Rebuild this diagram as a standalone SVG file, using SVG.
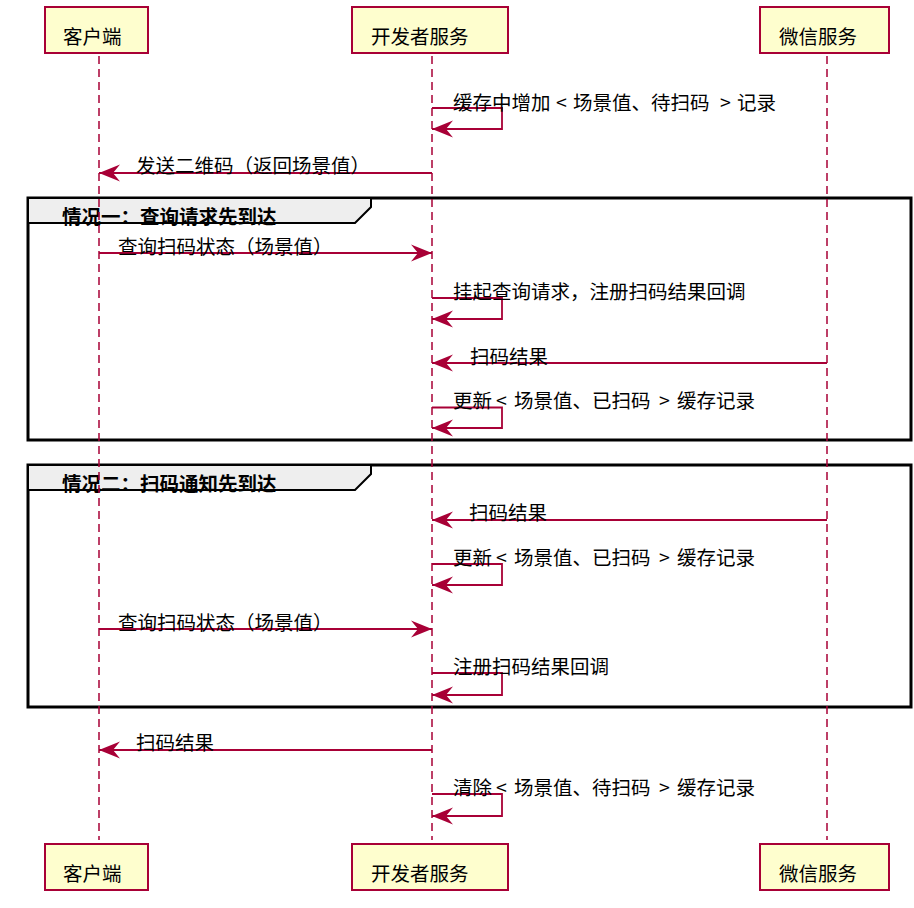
<svg xmlns="http://www.w3.org/2000/svg" width="914" height="908" viewBox="0 0 914 908">
<style>
.life{stroke:#A80036;stroke-width:1.5;stroke-dasharray:8 5;fill:none}
.box{fill:#FEFECE;stroke:#A80036;stroke-width:2}
.msg{stroke:#A80036;stroke-width:1.8;fill:none;marker-end:url(#arr)}
.t{font-family:"Noto Sans CJK SC","Noto Sans",sans-serif;font-size:19.5px;fill:#000}
.frame{fill:none;stroke:#000;stroke-width:3}
.tab{fill:#EEEEEE;stroke:#000;stroke-width:2}
.fl{font-weight:bold}
</style>
<defs>
<marker id="arr" markerUnits="userSpaceOnUse" viewBox="-22 -10 23 20" refX="0" refY="0" markerWidth="23" markerHeight="20" orient="auto">
<path d="M0,0 L-21,-8.5 L-14,0 L-21,8.5 Z" fill="#A80036"/>
</marker>
</defs>
<rect width="914" height="908" fill="#fff"/>
<g id="frames">
<g id="group1">
<rect class="frame" x="28" y="198" width="883" height="242"/>
<path class="tab" d="M28,198 H371 V207 L355,223 H28 Z"/>
<text class="t fl" x="62" y="224">情况一：查询请求先到达</text>
</g>
<g id="group2">
<rect class="frame" x="28" y="465" width="883" height="242"/>
<path class="tab" d="M28,465 H371 V474 L355,490 H28 Z"/>
<text class="t fl" x="62" y="491">情况二：扫码通知先到达</text>
</g>
</g>
<g id="lifelines">
<line class="life" x1="99" y1="56" x2="99" y2="840"/>
<line class="life" x1="432" y1="56" x2="432" y2="840"/>
<line class="life" x1="827" y1="56" x2="827" y2="840"/>
</g>
<g id="client">
<rect class="box" x="45" y="7" width="103" height="46"/>
<text class="t" x="63" y="43.5">客户端</text>
<rect class="box" x="45" y="844" width="103" height="46"/>
<text class="t" x="63" y="880.5">客户端</text>
</g>
<g id="devserver">
<rect class="box" x="352" y="7" width="156" height="46"/>
<text class="t" x="371" y="43.5">开发者服务</text>
<rect class="box" x="352" y="844" width="156" height="46"/>
<text class="t" x="371" y="880.5">开发者服务</text>
</g>
<g id="wechat">
<rect class="box" x="760" y="7" width="129" height="46"/>
<text class="t" x="779" y="43.5">微信服务</text>
<rect class="box" x="760" y="844" width="129" height="46"/>
<text class="t" x="779" y="880.5">微信服务</text>
</g>
<g id="connectors">
<path class="msg" d="M432,108 H502 V129 H432"/>
<path class="msg" d="M432,173 H99"/>
<path class="msg" d="M99,253 H432"/>
<path class="msg" d="M432,298 H502 V319 H432"/>
<path class="msg" d="M827,363 H432"/>
<path class="msg" d="M432,407.5 H502 V428 H432"/>
<path class="msg" d="M827,520 H432"/>
<path class="msg" d="M432,564 H502 V585 H432"/>
<path class="msg" d="M99,629 H432"/>
<path class="msg" d="M432,673 H502 V695 H432"/>
<path class="msg" d="M432,750 H99"/>
<path class="msg" d="M432,794 H502 V816 H432"/>
</g>
<g id="labels">
<text class="t" x="453" y="109.5">缓存中增加<tspan x="556">&lt;</tspan><tspan x="573">场景值、待扫码</tspan><tspan x="720">&gt;</tspan><tspan x="737">记录</tspan></text>
<text class="t" x="136" y="173">发送二维码（返回场景值）</text>
<text class="t" x="118" y="254">查询扫码状态（场景值）</text>
<text class="t" x="453" y="298.5">挂起查询请求，注册扫码结果回调</text>
<text class="t" x="470" y="363.5">扫码结果</text>
<text class="t" x="453" y="408">更新<tspan x="496">&lt;</tspan><tspan x="514">场景值、已扫码</tspan><tspan x="659">&gt;</tspan><tspan x="677">缓存记录</tspan></text>
<text class="t" x="469" y="520">扫码结果</text>
<text class="t" x="453" y="565">更新<tspan x="496">&lt;</tspan><tspan x="514">场景值、已扫码</tspan><tspan x="659">&gt;</tspan><tspan x="677">缓存记录</tspan></text>
<text class="t" x="118" y="630">查询扫码状态（场景值）</text>
<text class="t" x="453" y="674">注册扫码结果回调</text>
<text class="t" x="136" y="750">扫码结果</text>
<text class="t" x="453" y="795">清除<tspan x="496">&lt;</tspan><tspan x="514">场景值、待扫码</tspan><tspan x="659">&gt;</tspan><tspan x="677">缓存记录</tspan></text>
</g>
</svg>
